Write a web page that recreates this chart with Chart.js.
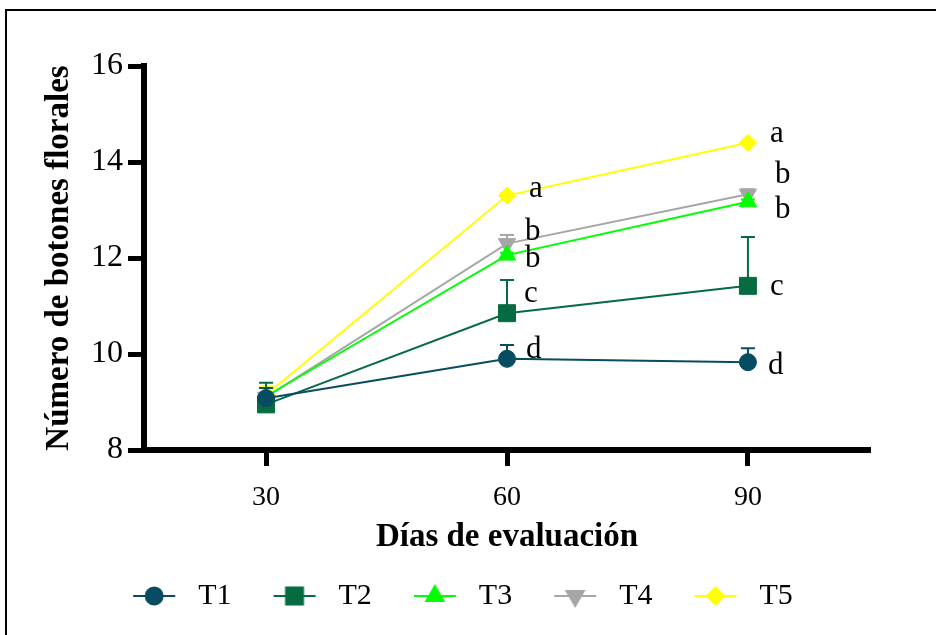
<!DOCTYPE html>
<html>
<head>
<meta charset="utf-8">
<script src="https://cdn.jsdelivr.net/npm/chart.js@4.4.1/dist/chart.umd.min.js"></script>
<style>
  html, body { margin: 0; padding: 0; background: #fff; }
</style>
</head>
<body>
<canvas id="chart" width="936" height="635"></canvas>
<script>
// ---- datos ----
const dias = [30, 60, 90];
const yTicks = [8, 10, 12, 14, 16];
const tratamientos = ['T1', 'T2', 'T3', 'T4', 'T5'];

const t1 = [9.08, 9.9, 9.83];
const t2 = [8.95, 10.85, 11.42];
const t3 = [9.12, 12.06, 13.17];
const t4 = [9.1, 12.3, 13.33];
const t5 = [9.15, 13.3, 14.4];

// error (solo hacia arriba)
const t1Err = [0.21, 0.29, 0.29];
const t2Err = [0.45, 0.69, 1.02];
const t3Err = [0.05, 0.05, 0.05];
const t4Err = [0.05, 0.18, 0.1];
const t5Err = [0.18, 0.05, 0.05];

// letras de significancia
const t1Letras = ['', 'd', 'd'];
const t2Letras = ['', 'c', 'c'];
const t3Letras = ['', 'b', 'b'];
const t4Letras = ['', 'b', 'b'];
const t5Letras = ['', 'a', 'a'];

const valores = [t1, t2, t3, t4, t5];
const errores = [t1Err, t2Err, t3Err, t4Err, t5Err];
const letras = [t1Letras, t2Letras, t3Letras, t4Letras, t5Letras];

// ---- estilos ----
const colores = ['#084c61', '#066b40', '#00ff00', '#a6a6a6', '#ffff00'];
const marcadores = [
  { pointStyle: 'circle', radius: 8.5, rotation: 0 },
  { pointStyle: 'rect', radius: 12, rotation: 0 },
  { pointStyle: 'triangle', radius: 10, rotation: 0 },
  { pointStyle: 'triangle', radius: 10, rotation: 180 },
  { pointStyle: 'rectRot', radius: 8.5, rotation: 0 }
];
// desplazamiento de cada letra respecto al punto [serie][dia] -> [dx, dy]
const letraOffset = [
  [[0, 0], [19, -1], [20, 12]],
  [[0, 0], [17, -11], [22, 9]],
  [[0, 0], [18, 12], [27, 16]],
  [[0, 0], [18, -4], [27, -11]],
  [[0, 0], [22, 1], [22, -1]]
];

const SERIF = "'Liberation Serif', 'Times New Roman', serif";

// iconos de la leyenda: linea + marcador
function iconoLeyenda(i) {
  const c = document.createElement('canvas');
  c.width = 82; c.height = 30;
  const g = c.getContext('2d');
  g.strokeStyle = colores[i];
  g.fillStyle = colores[i];
  g.lineWidth = 2;
  g.beginPath();
  g.moveTo(32, 15);
  g.lineTo(74, 15);
  g.stroke();
  const m = marcadores[i];
  Chart.helpers.drawPoint(g, { pointStyle: m.pointStyle, radius: m.radius, rotation: m.rotation, borderWidth: 1 }, 53, 15);
  return c;
}
const iconos = tratamientos.map((t, i) => iconoLeyenda(i));

const marco = {
  id: 'marco',
  beforeDraw(chart) {
    const ctx = chart.ctx;
    ctx.save();
    ctx.fillStyle = '#fff';
    ctx.fillRect(0, 0, chart.width, chart.height);
    ctx.strokeStyle = '#000';
    ctx.lineWidth = 2;
    ctx.beginPath();
    ctx.moveTo(6, chart.height);
    ctx.lineTo(6, 10);
    ctx.lineTo(chart.width, 10);
    ctx.stroke();
    ctx.restore();
  }
};

const barrasError = {
  id: 'barrasError',
  beforeDatasetDraw(chart, args) {
    const i = args.index;
    const ctx = chart.ctx;
    const xs = chart.scales.x, ys = chart.scales.y;
    ctx.save();
    ctx.strokeStyle = colores[i];
    ctx.lineWidth = 2;
    dias.forEach((d, j) => {
      const x = xs.getPixelForValue(d);
      const y0 = ys.getPixelForValue(valores[i][j]);
      const y1 = ys.getPixelForValue(valores[i][j] + errores[i][j]);
      ctx.beginPath();
      ctx.moveTo(x, y0);
      ctx.lineTo(x, y1);
      ctx.moveTo(x - 7, y1);
      ctx.lineTo(x + 7, y1);
      ctx.stroke();
    });
    ctx.restore();
  }
};

const etiquetas = {
  id: 'etiquetas',
  afterDatasetsDraw(chart) {
    const ctx = chart.ctx;
    const xs = chart.scales.x, ys = chart.scales.y;
    ctx.save();
    ctx.fillStyle = '#000';
    ctx.font = '31px ' + SERIF;
    ctx.textAlign = 'left';
    ctx.textBaseline = 'alphabetic';
    letras.forEach((serie, i) => {
      serie.forEach((txt, j) => {
        if (!txt) return;
        const x = xs.getPixelForValue(dias[j]) + letraOffset[i][j][0];
        const y = ys.getPixelForValue(valores[i][j]) + letraOffset[i][j][1];
        ctx.fillText(txt, x, y);
      });
    });
    ctx.restore();
  }
};

new Chart(document.getElementById('chart').getContext('2d'), {
  type: 'line',
  data: {
    datasets: tratamientos.map((t, i) => ({
      label: t,
      data: dias.map((d, j) => ({ x: d, y: valores[i][j] })),
      borderColor: colores[i],
      backgroundColor: colores[i],
      borderWidth: 2,
      tension: 0,
      fill: false,
      pointStyle: marcadores[i].pointStyle,
      pointRadius: marcadores[i].radius,
      pointRotation: marcadores[i].rotation,
      pointBackgroundColor: colores[i],
      pointBorderColor: colores[i],
      pointBorderWidth: 1
    }))
  },
  options: {
    responsive: false,
    animation: false,
    devicePixelRatio: 1,
    layout: { padding: { top: 66, right: 42, bottom: 14, left: 0 } },
    plugins: {
      tooltip: { enabled: false },
      legend: {
        position: 'bottom',
        labels: {
          usePointStyle: true,
          pointStyleWidth: 82,
          boxHeight: 30,
          padding: 10,
          color: '#000',
          font: { family: SERIF, size: 30 },
          generateLabels: chart => chart.data.datasets.map((ds, i) => ({
            text: ds.label,
            pointStyle: iconos[i],
            datasetIndex: i,
            hidden: false,
            lineWidth: 0,
            strokeStyle: 'rgba(0,0,0,0)',
            fillStyle: 'rgba(0,0,0,0)',
            fontColor: '#000'
          }))
        }
      }
    },
    scales: {
      x: {
        type: 'linear',
        min: 14.8,
        max: 105.2,
        afterBuildTicks: s => { s.ticks = dias.map(v => ({ value: v })); },
        afterFit: s => { s.height = 121; },
        border: { display: true, color: '#000', width: 6 },
        grid: { display: true, drawOnChartArea: false, drawTicks: true, tickLength: 16, tickWidth: 5, tickColor: '#000', color: '#000' },
        ticks: { color: '#000', font: { family: SERIF, size: 28 }, padding: 15 },
        title: {
          display: true,
          text: 'Días de evaluación',
          color: '#000',
          font: { family: SERIF, size: 33, weight: 'bold' },
          padding: { top: 0, bottom: 14 }
        }
      },
      y: {
        type: 'linear',
        min: 8,
        max: 16,
        afterBuildTicks: s => { s.ticks = yTicks.map(v => ({ value: v })); },
        afterFit: s => { s.width = 144; },
        border: { display: true, color: '#000', width: 6 },
        grid: { display: true, drawOnChartArea: false, drawTicks: true, tickLength: 16, tickWidth: 5, tickColor: '#000', color: '#000' },
        ticks: { color: '#000', font: { family: SERIF, size: 32 }, padding: 5 },
        title: {
          display: true,
          text: 'Número de botones florales',
          color: '#000',
          font: { family: SERIF, size: 33, weight: 'bold' },
          padding: { top: 40, bottom: 0 }
        }
      },
      derecha: {
        type: 'linear',
        position: 'right',
        afterFit: s => { s.width = 24; },
        border: { display: false },
        grid: { display: false },
        ticks: { display: false }
      }
    }
  },
  plugins: [marco, barrasError, etiquetas]
});
</script>
</body>
</html>
